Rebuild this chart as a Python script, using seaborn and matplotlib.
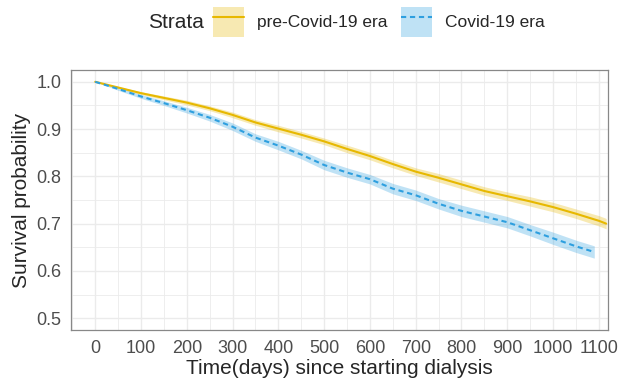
import numpy as np
import pandas as pd
import matplotlib
matplotlib.use("Agg")
import matplotlib.pyplot as plt
from matplotlib.patches import Patch
from matplotlib.lines import Line2D
from matplotlib.legend_handler import HandlerTuple
from matplotlib.ticker import MultipleLocator
import seaborn as sns

# Kaplan-Meier estimates (every 50 days)
days_pre = [0, 50, 100, 150, 200, 250, 300, 350, 400, 450, 500, 550, 600,
            650, 700, 750, 800, 850, 900, 950, 1000, 1050, 1100, 1116]
surv_pre = [1.0, 0.988, 0.976, 0.966, 0.956, 0.944, 0.930, 0.914, 0.901, 0.888,
            0.874, 0.858, 0.843, 0.826, 0.810, 0.797, 0.783, 0.769, 0.758,
            0.747, 0.735, 0.721, 0.706, 0.700]
ci_pre = [0.0, 0.002, 0.003, 0.004, 0.005, 0.005, 0.006, 0.006, 0.007, 0.007,
          0.007, 0.008, 0.008, 0.008, 0.008, 0.009, 0.009, 0.009, 0.009,
          0.010, 0.010, 0.010, 0.011, 0.011]

days_covid = [0, 50, 100, 150, 200, 250, 300, 350, 400, 450, 500, 550, 600,
              650, 700, 750, 800, 850, 900, 950, 1000, 1050, 1090]
surv_covid = [1.0, 0.985, 0.969, 0.955, 0.940, 0.924, 0.905, 0.882, 0.865,
              0.846, 0.824, 0.808, 0.794, 0.774, 0.760, 0.742, 0.727, 0.715,
              0.703, 0.686, 0.669, 0.652, 0.640]
ci_covid = [0.0, 0.003, 0.004, 0.005, 0.006, 0.007, 0.008, 0.008, 0.009,
            0.009, 0.010, 0.010, 0.010, 0.011, 0.011, 0.011, 0.012, 0.012,
            0.012, 0.012, 0.013, 0.013, 0.013]

strata = ["pre-Covid-19 era", "Covid-19 era"]
colors = ["#E7B800", "#2E9FDF"]

df = pd.concat([
    pd.DataFrame({"time": days_pre, "surv": surv_pre, "ci": ci_pre, "Strata": strata[0]}),
    pd.DataFrame({"time": days_covid, "surv": surv_covid, "ci": ci_covid, "Strata": strata[1]}),
])

sns.set_style("white")
plt.rcParams["font.family"] = ["Liberation Sans", "DejaVu Sans"]

fig = plt.figure(figsize=(6.27, 3.8), dpi=100)
ax = fig.add_axes([0.1132, 0.1316, 0.8565, 0.6842])

# confidence bands
for name, col in zip(strata, colors):
    d = df[df["Strata"] == name]
    ax.fill_between(d["time"], d["surv"] - d["ci"], d["surv"] + d["ci"],
                    color=col, alpha=0.3, linewidth=0)

sns.lineplot(data=df, x="time", y="surv", hue="Strata", style="Strata",
             palette=dict(zip(strata, colors)),
             dashes={strata[0]: "", strata[1]: (2.5, 1.8)},
             linewidth=1.5, ax=ax, legend=False)

ax.set_xlim(-53, 1120)
ax.set_ylim(0.475, 1.025)
ax.xaxis.set_major_locator(MultipleLocator(100))
ax.xaxis.set_minor_locator(MultipleLocator(50))
ax.yaxis.set_major_locator(MultipleLocator(0.1))
ax.yaxis.set_minor_locator(MultipleLocator(0.05))
ax.yaxis.set_major_formatter(matplotlib.ticker.FormatStrFormatter("%.1f"))
ax.grid(True, which="major", color="#EBEBEB", linewidth=1.0)
ax.grid(True, which="minor", color="#EBEBEB", linewidth=0.6)
ax.set_axisbelow(True)
for s in ax.spines.values():
    s.set_color("#888888")
    s.set_linewidth(0.9)
ax.tick_params(which="major", direction="out", length=3.5, width=0.9,
               color="#333333", labelsize=13, labelcolor="#4D4D4D", pad=3.5)
ax.tick_params(which="minor", length=0)
ax.set_xlabel("Time(days) since starting dialysis", fontsize=15, labelpad=2)
ax.set_ylabel("Survival probability", fontsize=15, labelpad=4)

# legend on top
handles = [(Patch(facecolor=c, alpha=0.3, edgecolor="none"),
            Line2D([], [], color=c, lw=1.5, linestyle="-" if i == 0 else (0, (2.5, 1.8))))
           for i, c in enumerate(colors)]
fig.text(0.236, 0.942, "Strata", fontsize=15, va="center", ha="left")
fig.legend(handles, strata, handler_map={tuple: HandlerTuple(ndivide=1)},
           loc="center left", bbox_to_anchor=(0.34, 0.942), ncol=2, frameon=False,
           fontsize=12.5, handlelength=1.8, handleheight=2.3, handletextpad=0.75,
           columnspacing=0.75, borderpad=0, borderaxespad=0)

fig.savefig("out.png", dpi=100)
